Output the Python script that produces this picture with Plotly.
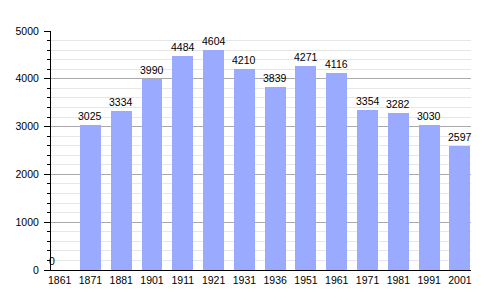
import plotly.graph_objects as go

years = ["1861", "1871", "1881", "1901", "1911", "1921", "1931", "1936",
         "1951", "1961", "1971", "1981", "1991", "2001"]
population = [0, 3025, 3334, 3990, 4484, 4604, 4210, 3839, 4271, 4116,
              3354, 3282, 3030, 2597]

FONT = "Liberation Sans, Arial, sans-serif"

fig = go.Figure()
fig.add_trace(go.Bar(
    x=years, y=population, width=0.68,
    marker=dict(color="#9aabff", line=dict(width=0)),
    hoverinfo="skip",
))

for i, v in enumerate(population):
    fig.add_annotation(
        x=i, y=v, xref="x", yref="y", text=str(v), showarrow=False,
        yanchor="bottom", yshift=1, xshift=(-8 if v == 0 else 0),
        font=dict(family=FONT, size=10.5, color="black"),
    )

fig.update_layout(
    width=500, height=300,
    margin=dict(l=51, r=28.5, t=31, b=30),
    paper_bgcolor="white", plot_bgcolor="white",
    showlegend=False,
    font=dict(family=FONT, size=10.5, color="black"),
    bargap=0,
)
fig.update_xaxes(
    type="category", range=[-0.28, 13.36],
    showline=True, linecolor="black", linewidth=1,
    ticks="", showgrid=False, tickfont=dict(size=10.5),
    ticklabelstandoff=0,
)
fig.update_yaxes(
    range=[0, 5000], dtick=1000, tick0=0,
    showline=True, linecolor="black", linewidth=1,
    ticks="outside", ticklen=6, tickcolor="black", tickwidth=1,
    showgrid=True, gridcolor="#aaaaaa", gridwidth=1,
    zeroline=False, tickfont=dict(size=10.5), ticklabelstandoff=3,
    minor=dict(dtick=200, ticks="outside", ticklen=3, tickcolor="black",
               showgrid=True, gridcolor="#e6e6e6", gridwidth=1),
)

fig.write_html("out.html")
